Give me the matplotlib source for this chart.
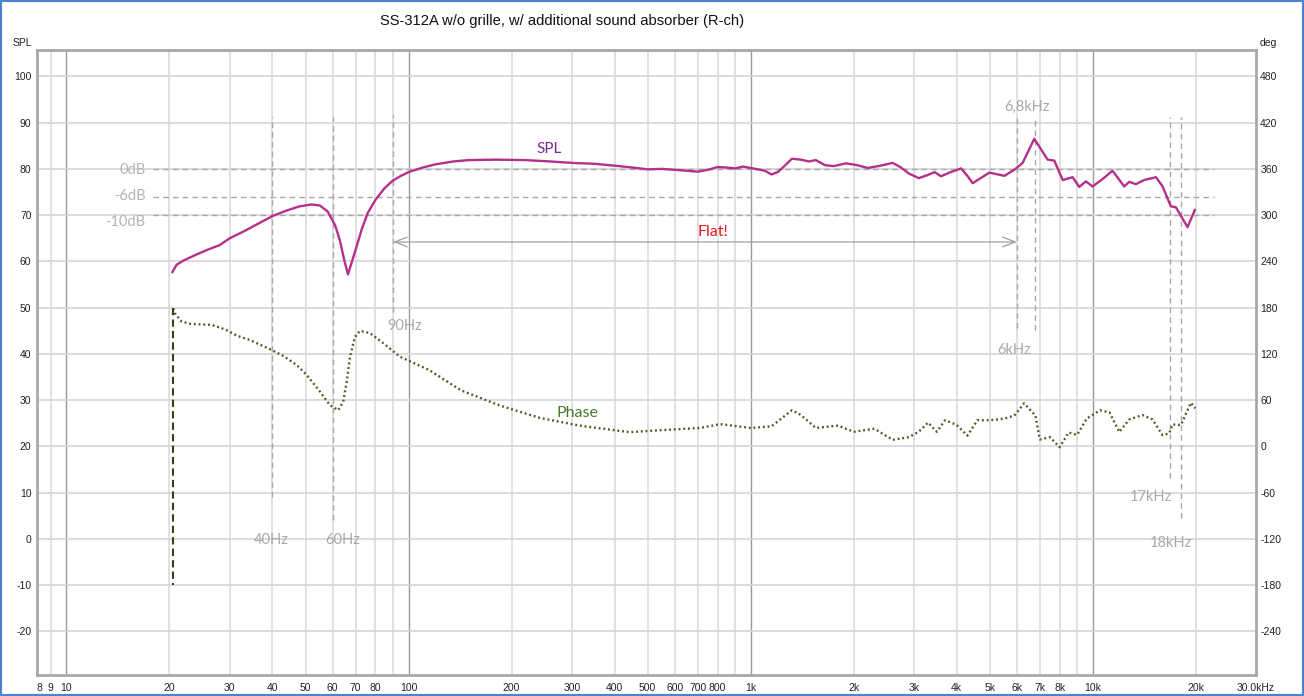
import matplotlib
matplotlib.use("Agg")
import matplotlib.pyplot as plt
from matplotlib.patches import Rectangle
from matplotlib.ticker import NullLocator, FixedLocator, FixedFormatter

plt.rcParams["axes.unicode_minus"] = False

# ---------------- data ----------------
spl_freq = [20.4, 21, 22, 24, 26, 28, 30, 33, 36, 40, 44, 48, 52, 55, 58, 61, 63, 65, 66.5, 68,
            70, 73, 76, 80, 85, 90, 95, 100, 110, 120, 135, 150, 180, 220, 260, 300, 350, 400,
            450, 500, 550, 600, 650, 700, 750, 800, 850, 900, 950, 1000, 1100, 1150, 1200, 1250,
            1320, 1400, 1480, 1550, 1650, 1750, 1900, 2050, 2200, 2400, 2600, 2750, 2900, 3100,
            3300, 3450, 3600, 3811, 4121, 4300, 4456, 4700, 4988, 5514, 5898, 6237, 6746, 7380,
            7717, 8166, 8733, 9130, 9550, 9986, 10680, 11420, 12360, 12780, 13370, 14140, 15300,
            16000, 16910, 17500, 18920, 19870]
spl_db = [57.7, 59.3, 60.2, 61.5, 62.6, 63.5, 65.0, 66.5, 68.0, 69.8, 71.0, 71.9, 72.3, 72.1,
          70.8, 67.8, 64.5, 60.0, 57.2, 59.5, 62.5, 67.0, 70.5, 73.3, 75.8, 77.5, 78.5, 79.3,
          80.3, 81.0, 81.6, 81.9, 82.0, 81.9, 81.6, 81.3, 81.1, 80.7, 80.3, 79.9, 80.0, 79.8,
          79.6, 79.4, 79.8, 80.4, 80.3, 80.1, 80.5, 80.2, 79.6, 78.8, 79.3, 80.5, 82.2, 82.0,
          81.6, 81.9, 80.8, 80.6, 81.2, 80.8, 80.2, 80.7, 81.3, 80.3, 79.0, 78.0, 78.7, 79.3,
          78.4, 79.2, 80.1, 78.5, 76.9, 78.0, 79.2, 78.5, 79.8, 81.3, 86.5, 82.0, 81.8, 77.6,
          78.2, 76.1, 77.3, 76.2, 77.8, 79.6, 76.2, 77.2, 76.7, 77.6, 78.2, 76.2, 71.9, 71.7,
          67.4, 71.1]

phase_freq = [20.5, 20.8, 21.7, 23, 26.6, 29, 31.5, 34.4, 39.8, 43, 47.1, 50.4, 55.1, 58.9,
              62.3, 64.4, 66, 67.4, 69.7, 72.1, 77.1, 84.3, 94.3, 115, 142, 185, 242, 316, 443,
              540, 712, 815, 1000, 1150, 1320, 1400, 1550, 1800, 2000, 2300, 2600, 2900, 3100,
              3300, 3500, 3700, 4000, 4300, 4600, 5000, 5500, 5900, 6300, 6800, 7000, 7500, 8000,
              8500, 9000, 9600, 10500, 11200, 11950, 12780, 13980, 14950, 15990, 16730, 17100,
              18100, 19360, 19930]
phase_deg = [179, 172, 162, 159, 157.6, 152, 143.6, 138, 125, 117.5, 105.6, 92.6, 71, 53.6,
             47, 58, 85, 116, 142, 150, 147, 134, 116.4, 99, 73, 53, 37, 27, 18.5, 21, 24, 29,
             24, 26, 47, 41, 24, 27, 19, 23, 8.6, 12, 19, 31, 19, 34, 28, 14, 34, 34, 36, 40,
             56, 40, 9, 12, -1, 18, 15, 36, 47, 44, 18.7, 35, 40.7, 35, 14.7, 16.9, 28.6, 27.7,
             56.7, 49.4]

# phase wrap at start
wrap_freq = 20.5
wrap_deg = [180, -180]

title = "SS-312A w/o grille, w/ additional sound absorber (R-ch)"

x_ticks = [8.35, 9, 10, 20, 30, 40, 50, 60, 70, 80, 100, 200, 300, 400, 500, 600, 700, 800,
           1000, 2000, 3000, 4000, 5000, 6000, 7000, 8000, 10000, 20000, 30000]
x_labels = ["8", "9", "10", "20", "30", "40", "50", "60", "70", "80", "100", "200", "300", "400",
            "500", "600", "700", "800", "1k", "2k", "3k", "4k", "5k", "6k", "7k", "8k", "10k",
            "20k", "30.0kHz"]
grid_minor = [9, 20, 30, 40, 50, 60, 70, 80, 90, 200, 300, 400, 500, 600, 700, 800, 900,
              2000, 3000, 4000, 5000, 6000, 7000, 8000, 9000, 20000]
grid_major = [10, 100, 1000, 10000]
spl_ticks = list(range(-20, 101, 10))
deg_ticks = list(range(-240, 481, 60))

# level reference lines (label, dB, label y)
level_lines = [("0dB", 80, 79.7), ("-6dB", 74, 74.2), ("-10dB", 70, 68.6)]
# vertical markers (freq, top dB, bottom dB, label, label freq, label dB)
markers = [
    (40, 91.3, 9.0, "40Hz", 39.6, -0.3),
    (60, 91.3, 4.0, "60Hz", 64.3, -0.3),
    (90, 91.7, 49.1, "90Hz", 97.5, 46.0),
    (6000, 91.7, 45.6, "6kHz", 5880, 40.9),
    (6800, 91.3, 45.2, "6,8kHz", 6438, 93.4),
    (16840, 91.3, 13.1, "17kHz", 14830, 9.0),
    (18160, 91.3, 4.5, "18kHz", 16970, -0.95),
]
flat_range = (90, 6000)
flat_db = 64.2

# ---------------- figure ----------------
W, H = 1304, 696
fig = plt.figure(figsize=(W / 100, H / 100), dpi=100)
fig.patch.set_facecolor("white")
ax = fig.add_axes([37 / W, 21.5 / H, (1256 - 37) / W, (674.5 - 50) / H])

ylo, yhi = -29.3, 105.7
xlo, xhi = 8.2, 30000
ax.set_xscale("log")
ax.set_xlim(xlo, xhi)
ax.set_ylim(ylo, yhi)

ax2 = ax.twinx()
ax2.set_ylim((ylo - 20) * 6, (yhi - 20) * 6)

for f in grid_minor:
    ax.axvline(f, color="#dcdcdc", lw=1.2, zorder=0)
for f in grid_major:
    ax.axvline(f, color="#9a9a9a", lw=1.0, zorder=0)
for v in spl_ticks:
    ax.axhline(v, color="#d6d6d6", lw=1.2, zorder=0)

ax.xaxis.set_major_locator(FixedLocator(x_ticks))
ax.xaxis.set_major_formatter(FixedFormatter(x_labels))
ax.xaxis.set_minor_locator(NullLocator())
ax.set_xlim(xlo, xhi)
ax.set_yticks(spl_ticks)
ax.tick_params(axis="both", which="both", length=0, labelsize=7.5, colors="#222222")
ax.tick_params(axis="x", pad=6)
ax.tick_params(axis="y", pad=4)
for lab in ax.get_xticklabels() + ax.get_yticklabels():
    lab.set_family("Liberation Sans")

for s in ax.spines.values():
    s.set_color("#a8a8a8")
    s.set_linewidth(2)

ax2.set_yticks(deg_ticks)
ax2.tick_params(axis="y", length=0, labelsize=7.5, colors="#222222", pad=3)
for lab in ax2.get_yticklabels():
    lab.set_family("Liberation Sans")
for s in ax2.spines.values():
    s.set_visible(False)

# reference level lines
for lab, db, ly in level_lines:
    ax.plot([17.9, 22600], [db, db], ls=(0, (4, 3)), color="#a8a8a8", lw=1.0, zorder=2)
    ax.text(17.0, ly, lab, ha="right", va="center", color="#b4b4b4", fontsize=10.5,
            family="Lato")

for f, top, bot, lab, lf, ldb in markers:
    ax.plot([f, f], [bot, top], ls=(0, (4, 3)), color="#a8a8a8", lw=1.0, zorder=2)
    ax.text(lf, ldb, lab, ha="center", va="center", color="#a8a8a8", fontsize=10.5,
            family="Lato")

ax.annotate("", xy=(flat_range[0], flat_db), xytext=(flat_range[1], flat_db),
            arrowprops=dict(arrowstyle="<->,head_length=0.9,head_width=0.35",
                            color="#a0a0a0", lw=0.9, shrinkA=0, shrinkB=0))
ax.text(774, 66.4, "Flat!", color="#e8141e", fontsize=11.5, ha="center", va="center",
        family="Lato")

# curves
ax.plot(spl_freq, spl_db, color="#b5308a", lw=1.7, zorder=4)
ax2.plot(phase_freq, phase_deg, color="#4e5a22", lw=1.7, ls=(0, (0.8, 1.2)), zorder=4)
ax2.plot([wrap_freq, wrap_freq], wrap_deg, color="#3a4016", lw=1.5, ls=(0, (3.5, 2)),
         zorder=4)

ax.text(257, 84.3, "SPL", color="#7a2c92", fontsize=11, ha="center", va="center",
        family="Lato")
ax2.text(312, 43, "Phase", color="#4a7a26", fontsize=11.5, ha="center", va="center",
         family="Lato")

fig.text(562 / W, 1 - 21 / H, title, ha="center", va="center", fontsize=10.6,
         family="Liberation Sans", color="#111111")
fig.text(22 / W, 1 - 43 / H, "SPL", ha="center", va="center", fontsize=7.5,
         family="Liberation Sans", color="#222222")
fig.text(1268 / W, 1 - 43 / H, "deg", ha="center", va="center", fontsize=7.5,
         family="Liberation Sans", color="#222222")

fig.patches.append(Rectangle((0, 0), 1, 1, transform=fig.transFigure, fill=False,
                             edgecolor="#4a84d0", lw=3, zorder=10))

fig.savefig("out.png", dpi=100, facecolor="white")
